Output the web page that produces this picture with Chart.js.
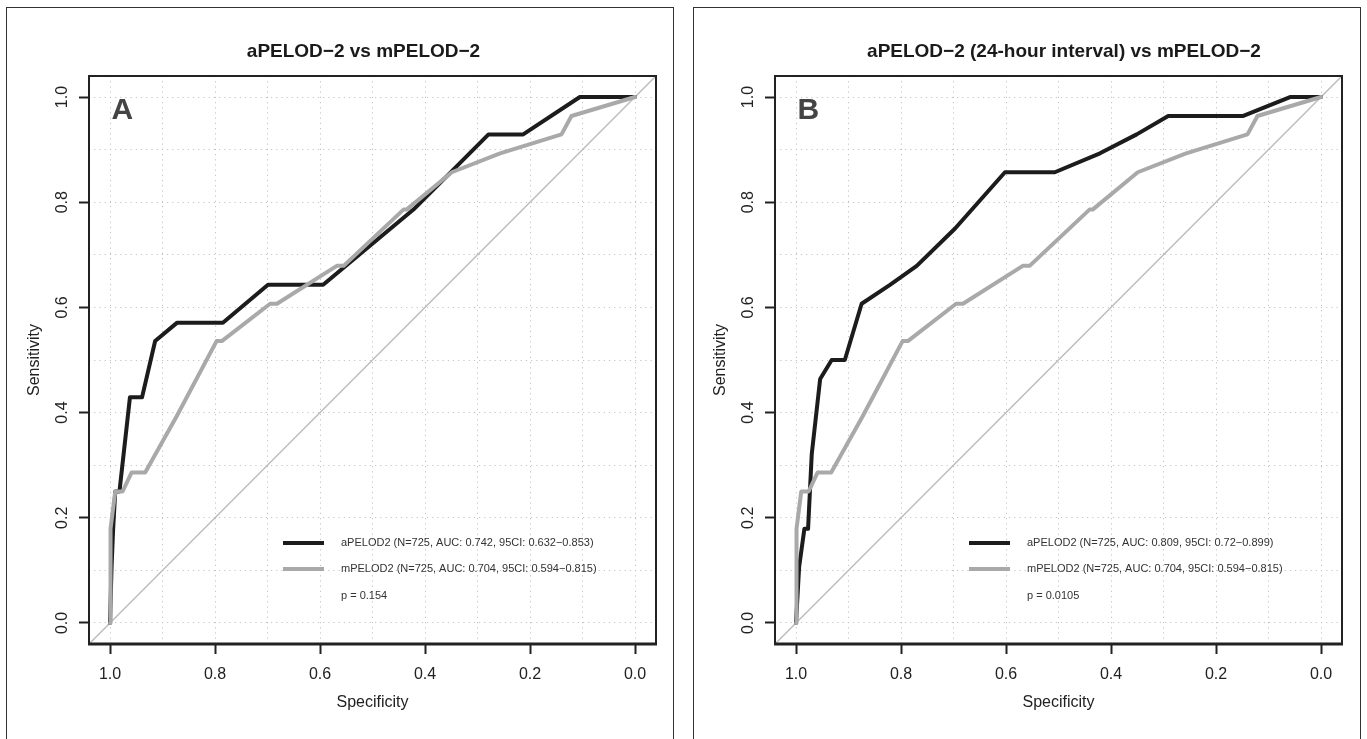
<!DOCTYPE html>
<html><head><meta charset="utf-8">
<script src="https://cdn.jsdelivr.net/npm/chart.js@4/dist/chart.umd.min.js"></script>
<style>
html,body{margin:0;padding:0;background:#fff;}
body{width:1367px;height:739px;position:relative;overflow:hidden;font-family:"Liberation Sans",Arial,sans-serif;}
.frame{position:absolute;border:1px solid #333;box-sizing:border-box;}
canvas{position:absolute;top:0;}
</style></head><body>
<div class="frame" style="left:6px;top:7px;width:668px;height:745px;"></div>
<div class="frame" style="left:693px;top:7px;width:668px;height:745px;"></div>
<canvas id="cA" width="681" height="739" style="left:0px"></canvas>
<canvas id="cB" width="681" height="739" style="left:686px"></canvas>
<script>
// ---- data ----
const panelTitles = ['aPELOD\u22122 vs mPELOD\u22122', 'aPELOD\u22122 (24-hour interval) vs mPELOD\u22122'];
const panelLetters = ['A', 'B'];
const tickValues = [0.0, 0.2, 0.4, 0.6, 0.8, 1.0];
const xAxisTitle = 'Specificity';
const yAxisTitle = 'Sensitivity';

// Panel A: aPELOD2
const aSpec = [1.000, 0.997, 0.994, 0.990, 0.982, 0.962, 0.939, 0.914, 0.872, 0.785, 0.699, 0.594, 0.422, 0.279, 0.213, 0.105, 0.000];
const aSens = [0.000, 0.107, 0.179, 0.250, 0.250, 0.429, 0.429, 0.536, 0.571, 0.571, 0.643, 0.643, 0.786, 0.929, 0.929, 1.000, 1.000];
// Panel B: aPELOD2 (24-hour interval)
const bSpec = [1.000, 0.994, 0.984, 0.977, 0.970, 0.954, 0.932, 0.907, 0.875, 0.821, 0.770, 0.697, 0.602, 0.507, 0.421, 0.351, 0.291, 0.148, 0.059, 0.000];
const bSens = [0.000, 0.107, 0.179, 0.179, 0.321, 0.464, 0.500, 0.500, 0.607, 0.643, 0.679, 0.750, 0.857, 0.857, 0.893, 0.929, 0.964, 0.964, 1.000, 1.000];
// mPELOD2 (both panels)
const mSpec = [1.000, 0.999, 0.990, 0.976, 0.959, 0.933, 0.873, 0.797, 0.787, 0.695, 0.682, 0.568, 0.555, 0.441, 0.435, 0.349, 0.257, 0.140, 0.121, 0.000];
const mSens = [0.000, 0.179, 0.250, 0.250, 0.286, 0.286, 0.393, 0.536, 0.536, 0.607, 0.607, 0.679, 0.679, 0.786, 0.786, 0.857, 0.893, 0.929, 0.964, 1.000];

const legendA = ['aPELOD2 (N=725, AUC: 0.742, 95CI: 0.632\u22120.853)', 'mPELOD2 (N=725, AUC: 0.704, 95CI: 0.594\u22120.815)'];
const legendB = ['aPELOD2 (N=725, AUC: 0.809, 95CI: 0.72\u22120.899)', 'mPELOD2 (N=725, AUC: 0.704, 95CI: 0.594\u22120.815)'];
const pValues = ['p = 0.154', 'p = 0.0105'];

const axisMin = -0.04, axisMax = 1.04;
</script>
<script>
const FONT = '"Liberation Sans", Arial, Helvetica, sans-serif';
const isMajor = v => tickValues.some(t => Math.abs(t - v) < 1e-6);
const pts = (xs, ys) => xs.map((x, i) => ({x: x, y: ys[i]}));

const overlay = {
  id: 'overlay',
  afterDraw(chart, args, o) {
    const ctx = chart.ctx, a = chart.chartArea;
    ctx.save();
    // plot box
    ctx.strokeStyle = '#222'; ctx.lineWidth = 2;
    ctx.strokeRect(a.left, a.top, a.right - a.left, a.bottom - a.top);
    ctx.lineWidth = 3;
    ctx.beginPath(); ctx.moveTo(a.left - 1, a.bottom); ctx.lineTo(a.right + 1, a.bottom); ctx.stroke();
    // title
    ctx.fillStyle = '#1a1a1a';
    ctx.font = 'bold 19px ' + FONT;
    ctx.textAlign = 'center'; ctx.textBaseline = 'alphabetic';
    ctx.fillText(o.title, (a.left + a.right) / 2 + o.titleShift, 57);
    // panel letter
    ctx.fillStyle = '#444';
    ctx.font = 'bold 30px ' + FONT;
    ctx.textAlign = 'left';
    ctx.fillText(o.letter, a.left + 22.5, 119);
    // legend
    const rows = [a.bottom - 101, a.bottom - 75];
    const ds = chart.data.datasets.filter(d => d.inLegend);
    ds.forEach((d, i) => {
      ctx.strokeStyle = d.borderColor; ctx.lineWidth = 4; ctx.lineCap = 'butt';
      ctx.beginPath(); ctx.moveTo(a.left + 194, rows[i]); ctx.lineTo(a.left + 235, rows[i]); ctx.stroke();
      ctx.fillStyle = '#333'; ctx.font = '11px ' + FONT; ctx.textBaseline = 'middle';
      ctx.fillText(d.label, a.left + 252, rows[i]);
    });
    ctx.fillStyle = '#333'; ctx.font = '11px ' + FONT; ctx.textBaseline = 'middle';
    ctx.fillText(o.pText, a.left + 252, a.bottom - 48);
    ctx.restore();
  }
};

function makeChart(id, idx, blackSpec, blackSens, legend) {
  const tickFont = {family: FONT, size: 16};
  const grid = {
    color: '#c4c4c4', lineWidth: 1,
    drawTicks: true, tickLength: 10, tickWidth: 2,
    tickColor: c => (c.tick && isMajor(c.tick.value)) ? '#222' : 'rgba(0,0,0,0)'
  };
  const border = {display: false, dash: [1.2, 4]};
  return new Chart(document.getElementById(id), {
    type: 'line',
    data: {
      datasets: [
        {label: legend[0], inLegend: true, data: pts(blackSpec, blackSens), borderColor: '#1c1c1c', borderWidth: 4, order: 2},
        {label: legend[1], inLegend: true, data: pts(mSpec, mSens), borderColor: '#a9a9a9', borderWidth: 4, order: 1},
        {label: 'chance', inLegend: false, data: [{x: axisMax, y: axisMin}, {x: axisMin, y: axisMax}], borderColor: '#bdbdbd', borderWidth: 1.5, order: 3}
      ]
    },
    options: {
      responsive: false, animation: false, events: [],
      devicePixelRatio: 1,
      layout: {padding: {left: 0, right: 25, top: 76, bottom: 0}},
      elements: {
        point: {radius: 0},
        line: {tension: 0, borderJoinStyle: 'round', borderCapStyle: 'round', fill: false}
      },
      plugins: {
        legend: {display: false}, tooltip: {enabled: false}, title: {display: false},
        overlay: {title: panelTitles[idx], letter: panelLetters[idx], pText: pValues[idx], titleShift: idx === 0 ? -9 : 5.5}
      },
      scales: {
        x: {
          type: 'linear', reverse: true, min: axisMin, max: axisMax,
          afterFit: s => { s.height = 95; },
          ticks: {stepSize: 0.1, includeBounds: false, autoSkip: false, maxRotation: 0, minRotation: 0, padding: 11,
                  color: '#222', font: tickFont,
                  callback: v => isMajor(v) ? Number(v).toFixed(1) : ''},
          grid: grid, border: border,
          title: {display: true, text: xAxisTitle, color: '#222', font: {family: FONT, size: 16}, padding: {top: 0, bottom: 27}}
        },
        y: {
          type: 'linear', min: axisMin, max: axisMax,
          afterFit: s => { s.width = 89; },
          ticks: {stepSize: 0.1, includeBounds: false, autoSkip: false, minRotation: 90, maxRotation: 90, crossAlign: 'center', padding: 5.5,
                  color: '#222', font: tickFont,
                  callback: v => isMajor(v) ? Number(v).toFixed(1) : ''},
          grid: grid, border: border,
          title: {display: true, text: yAxisTitle, color: '#222', font: {family: FONT, size: 16}, padding: {top: 25, bottom: 0}}
        }
      }
    },
    plugins: [overlay]
  });
}

makeChart('cA', 0, aSpec, aSens, legendA);
makeChart('cB', 1, bSpec, bSens, legendB);
</script>
</body></html>
